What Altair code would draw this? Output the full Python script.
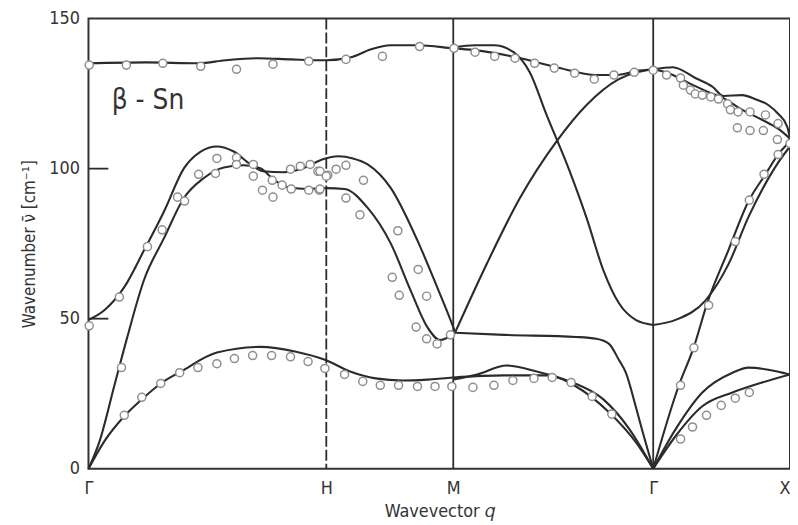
import altair as alt
import pandas as pd

# ---- symmetry points along the path (path length units) ----
sym_q = [0, 33.9, 52.0, 80.5, 100]
sym_labels = ["Γ", "H", "M", "Γ", "X"]
dashed_q = [33.9]
solid_q = [52.0, 80.5]
ytick_vals = [50, 100]

# ---- calculated dispersion branches (q, wavenumber cm^-1) ----
ta1_q = [0, 2.3, 5.1, 7.6, 10.3, 13.2, 18.3, 24.5, 29.6, 33.7, 37.3, 40.9, 44.8, 48.3, 52.0]
ta1_nu = [0, 9.3, 17.5, 23.1, 28.4, 32.4, 38.7, 40.6, 39.0, 36.3, 32.4, 30.1, 29.4, 29.7, 30.4]

opt1_q = [0, 2.3, 5.1, 7.9, 10.8, 13.6, 16.0, 18.3, 20.7, 23.1, 24.9, 27.8, 30.6, 33.4, 35.6, 37.7, 39.8, 43.1, 46.9, 49.7, 51.6, 52.3]
opt1_nu = [49.6, 52.9, 60.5, 72.7, 85.9, 100.1, 105.7, 107.4, 105.7, 101.4, 99.1, 98.8, 100.1, 103.1, 104.1, 103.4, 101.4, 93.5, 76.0, 60.5, 49.6, 45.3]

la1_q = [0, 1.6, 3.7, 5.5, 7.9, 10.8, 13.6, 16.4, 19.3, 22.1, 24.5, 26.3, 28.5, 31.3, 33.9, 36.5, 39.8, 43.1, 45.9, 48.3, 50.1, 52.3]
la1_nu = [0, 9.3, 27.8, 43.6, 62.8, 77.0, 90.2, 96.8, 100.4, 101.1, 100.1, 96.5, 93.8, 93.2, 93.5, 93.2, 86.9, 75.0, 59.5, 47.2, 42.9, 45.3]

top_q = [0, 8.2, 15.7, 19.5, 24.2, 28.9, 33.9, 37.4, 40.2, 43.1, 46.9, 52.0, 55.4, 61.0, 66.7, 72.4, 75.2, 78.0, 80.5]
top_nu = [135.1, 135.4, 135.1, 136.1, 136.8, 136.4, 136.1, 137.1, 139.7, 141.1, 141.1, 140.1, 139.4, 137.1, 133.8, 131.2, 131.2, 132.5, 133.1]

down_q = [52.0, 55.1, 57.8, 60.6, 62.9, 65.3, 68.6, 71.0, 73.4, 75.6, 78.0, 80.5]
down_nu = [140.4, 141.1, 141.1, 138.8, 132.1, 117.9, 99.1, 83.6, 66.1, 55.2, 49.6, 47.9]

up_q = [52.3, 56.8, 61.5, 66.7, 71.0, 75.6, 80.5]
up_nu = [45.6, 68.4, 90.2, 109.0, 121.2, 129.8, 133.1]

flat_q = [52.3, 59.2, 69.5, 72.4, 74.2, 75.6, 76.6, 78.0, 79.0, 80.5]
flat_nu = [45.3, 44.6, 43.9, 43.3, 41.6, 36.3, 32.0, 20.8, 12.2, 0]

ta2_q = [52.0, 55.4, 59.6, 63.9, 68.6, 73.4, 77.1, 80.5]
ta2_nu = [29.7, 31.4, 34.4, 32.4, 29.1, 23.1, 13.2, 0]

ta3_q = [52.0, 59.2, 65.3, 69.5, 74.2, 78.0, 80.5]
ta3_nu = [30.4, 31.1, 31.1, 27.4, 18.8, 8.9, 0]

gx1_q = [80.5, 83.3, 86.5, 89.0, 90.5, 93.2, 95.0, 96.9, 98.3, 99.6, 100]
gx1_nu = [133.1, 133.8, 130.2, 127.2, 124.2, 124.5, 123.2, 121.2, 118.3, 114.0, 110.0]

gx2_q = [80.5, 82.7, 85.6, 88.4, 90.5, 93.2, 96.0, 98.3, 100]
gx2_nu = [133.1, 131.8, 128.5, 125.5, 123.5, 119.6, 116.3, 113.3, 110.0]

gx3_q = [80.5, 83.7, 88.0, 91.2, 94.1, 96.5, 98.6, 100]
gx3_nu = [47.9, 49.6, 56.2, 68.0, 84.0, 95.0, 103.0, 107.4]

gx4_q = [80.5, 84.1, 86.3, 88.2, 91.2, 94.1, 96.5, 98.3, 100]
gx4_nu = [0, 27.4, 40.6, 55.2, 72.7, 89.2, 98.1, 104.7, 109.0]

gx5_q = [80.5, 83.7, 87.5, 91.8, 94.1, 96.9, 100]
gx5_nu = [0, 13.2, 25.4, 32.0, 33.7, 33.0, 31.4]

gx6_q = [80.5, 83.7, 87.5, 91.8, 96.0, 100]
gx6_nu = [0, 10.9, 20.8, 25.4, 28.7, 31.4]

# ---- measured points (open circles) ----
obs_top_q = [0.1, 5.4, 10.6, 16.0, 21.1, 26.3, 31.4, 36.7, 41.9, 47.2, 52.1, 55.1, 57.9, 60.8, 63.6, 66.4, 69.3, 72.1, 74.9, 77.8, 80.5,
             82.4, 84.4, 84.8, 85.8, 86.5, 87.5, 88.7, 89.8, 91.1, 91.5, 92.6, 94.3, 96.5, 98.3, 92.5, 94.3, 96.2, 98.2, 100]
obs_top_nu = [134.5, 134.5, 135.1, 134.1, 133.1, 134.8, 135.8, 136.4, 137.4, 140.7, 140.1, 138.8, 137.4, 136.8, 135.1, 133.5, 131.8, 129.8, 131.2, 132.1, 132.8,
              131.2, 130.2, 127.8, 126.2, 124.9, 124.5, 123.9, 123.2, 121.6, 119.6, 118.9, 118.9, 117.9, 115.0, 113.6, 112.7, 112.7, 109.7, 108.4]

obs_mid_q = [0.1, 4.4, 8.4, 10.5, 12.7, 13.7, 15.7, 18.1, 18.3, 21.1, 21.1, 23.5, 23.5, 24.8, 26.2, 26.3, 27.6, 28.9, 28.8, 30.2, 31.6, 31.4, 32.9, 32.7, 34.1,
             33.0, 33.0, 33.9, 35.3, 36.7, 36.7, 39.2, 38.7, 44.1, 43.3, 44.3, 47.0, 48.2, 46.7, 48.2, 49.7, 51.6,
             84.4, 86.3, 88.4, 92.2, 94.2, 96.3, 98.3]
obs_mid_nu = [47.6, 57.2, 74.0, 79.6, 90.5, 89.2, 98.1, 98.4, 103.4, 103.7, 101.4, 101.4, 97.5, 92.8, 96.1, 90.5, 94.5, 93.2, 99.8, 100.8, 101.4, 92.8, 92.8, 99.1, 97.8,
              93.2, 99.1, 97.5, 99.8, 101.1, 90.2, 96.1, 84.6, 79.3, 63.8, 57.8, 66.4, 57.5, 47.2, 43.3, 41.6, 44.6,
              27.8, 40.3, 54.5, 75.7, 89.5, 98.1, 104.7]

obs_low_q = [4.7, 5.1, 7.6, 10.3, 13.0, 15.6, 18.3, 20.8, 23.4, 26.1, 28.8, 31.3, 33.7, 36.5, 39.1, 41.6, 44.2, 46.9, 49.4,
             51.8, 54.8, 57.8, 60.5, 63.5, 66.1, 68.8, 71.8, 74.6,
             84.4, 86.1, 88.1, 90.2, 92.2, 94.2]
obs_low_nu = [33.7, 17.8, 23.8, 28.4, 32.0, 33.7, 35.0, 36.7, 37.7, 37.7, 37.3, 35.7, 33.4, 31.4, 29.1, 27.8, 27.8, 27.4, 27.4,
              27.4, 27.1, 27.8, 29.4, 30.1, 30.4, 28.7, 24.1, 18.2,
              9.9, 13.9, 17.8, 21.1, 23.5, 25.4]

branches = {
    "ta1": (ta1_q, ta1_nu), "opt1": (opt1_q, opt1_nu), "la1": (la1_q, la1_nu),
    "top": (top_q, top_nu), "down": (down_q, down_nu), "up": (up_q, up_nu),
    "flat": (flat_q, flat_nu), "ta2": (ta2_q, ta2_nu), "ta3": (ta3_q, ta3_nu),
    "gx1": (gx1_q, gx1_nu), "gx2": (gx2_q, gx2_nu), "gx3": (gx3_q, gx3_nu),
    "gx4": (gx4_q, gx4_nu), "gx5": (gx5_q, gx5_nu), "gx6": (gx6_q, gx6_nu),
}
rows = []
for name, (qs, nus) in branches.items():
    for i, (q, n) in enumerate(zip(qs, nus)):
        rows.append({"branch": name, "i": i, "q": q, "nu": n})
lines_df = pd.DataFrame(rows)

obs_df = pd.DataFrame({
    "q": obs_top_q + obs_mid_q + obs_low_q,
    "nu": obs_top_nu + obs_mid_nu + obs_low_nu,
})

FONT = "Liberation Sans Narrow, DejaVu Sans Condensed, Roboto, Liberation Sans, sans-serif"
INK = "#2b2b2b"

label_expr = "''"
for v, l in reversed(list(zip(sym_q, sym_labels))):
    label_expr = f"datum.value == {v} ? '{l}' : ({label_expr})"
align_expr = f"datum.value == {sym_q[-1]} ? 'right' : 'center'"

x_enc = alt.X("q:Q", scale=alt.Scale(domain=[0, 100], nice=False, zero=False),
              axis=alt.Axis(values=sym_q, labelExpr=label_expr, title="Wavevector 𝑞",
                            grid=False, domain=False, ticks=False, labelFont=FONT, titleFont=FONT,
                            labelFontSize=18, titleFontSize=18, labelColor="#333", titleColor="#333",
                            labelPadding=11, titlePadding=5, titleFontWeight="normal", labelFlush=False,
                            labelAlign={"expr": align_expr}))
y_enc = alt.Y("nu:Q", scale=alt.Scale(domain=[0, 150], nice=False),
              axis=alt.Axis(values=[0, 50, 100, 150], title="Wavenumber ν̄ [cm⁻¹]",
                            grid=False, domain=False, ticks=False, labelFont=FONT, titleFont=FONT,
                            labelFontSize=18, titleFontSize=17, labelColor="#333", titleColor="#333",
                            labelPadding=9, titlePadding=10, titleFontWeight="normal"))

dashed = alt.Chart(pd.DataFrame({"q": dashed_q})).mark_rule(
    color=INK, strokeWidth=1.8, strokeDash=[11, 3]).encode(x=x_enc)
solid = alt.Chart(pd.DataFrame({"q": solid_q})).mark_rule(
    color=INK, strokeWidth=1.8).encode(x=x_enc)
yticks = alt.Chart(pd.DataFrame({"nu": ytick_vals})).mark_rule(
    color=INK, strokeWidth=1.8).encode(y=y_enc, x=alt.value(0), x2=alt.value(20))

lines = alt.Chart(lines_df).mark_line(
    interpolate="monotone", color=INK, strokeWidth=2.1).encode(
    x=x_enc, y=y_enc, detail="branch:N", order="i:Q")

points = alt.Chart(obs_df).mark_point(
    shape="circle", filled=True, fill="white", stroke="#8f8f8f", strokeWidth=1.5,
    size=66, opacity=1).encode(x=x_enc, y=y_enc)

label = alt.Chart(pd.DataFrame({"q": [3.3], "nu": [120.0], "t": ["β - Sn"]})).mark_text(
    align="left", baseline="alphabetic", fontSize=28, font=FONT, color="#333").encode(
    x=x_enc, y=y_enc, text="t:N")

chart = alt.layer(dashed, solid, yticks, lines, points, label).properties(
    width=706, height=453,
    padding={"left": 81, "top": 9, "right": 0, "bottom": 56},
    autosize=alt.AutoSizeParams(type="none"),
    background="white",
).configure_view(stroke="#333", strokeWidth=2)

chart.save("out.html", embed_options={"renderer": "svg", "actions": False})
